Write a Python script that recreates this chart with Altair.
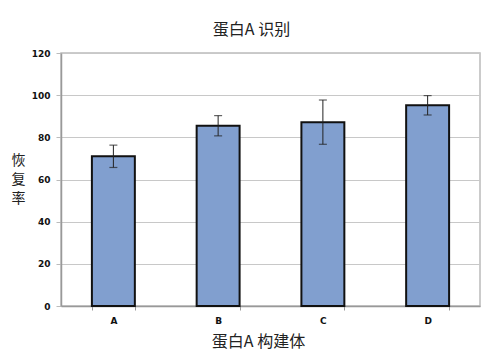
import altair as alt
import pandas as pd

categories = ["A", "B", "C", "D"]
means = [71.0, 85.5, 87.2, 95.2]
errors = [5.3, 4.8, 10.5, 4.6]

df = pd.DataFrame({
    "cat": categories,
    "mean": means,
    "lo": [m - e for m, e in zip(means, errors)],
    "hi": [m + e for m, e in zip(means, errors)],
})

x = alt.X("cat:N", sort=categories,
          scale=alt.Scale(paddingInner=0.59, paddingOuter=0.295),
          axis=alt.Axis(title="蛋白A 构建体", labelAngle=0, labelFont="DejaVu Sans",
                        labelFontWeight="bold", labelFontSize=9, labelColor="#111",
                        labelPadding=6, tickBand="extent", tickSize=4,
                        tickColor="#999", domainColor="#999", domainWidth=1.5,
                        titleFont="Noto Sans CJK SC", titleFontSize=16,
                        titleFontWeight="normal", titleColor="#222",
                        titlePadding=8, titleX=197, titleAnchor="middle", titleAlign="center"))

y_scale = alt.Scale(domain=[0, 120])

bars = alt.Chart(df).mark_bar(fill="#819FCF", stroke="#111", strokeWidth=2).encode(
    x=x,
    y=alt.Y("mean:Q", scale=y_scale,
            axis=alt.Axis(values=[0, 20, 40, 60, 80, 100, 120], title=["恢", "复", "率"],
                          titleAngle=0, titleFont="Noto Sans CJK SC", titleFontSize=14,
                          titleFontWeight="normal", titleColor="#222", titleLineHeight=19,
                          titleAlign="center", titleBaseline="top", titleX=-43, titleY=100,
                          labelFont="DejaVu Sans", labelFontWeight="bold", labelFontSize=9,
                          labelColor="#111", labelPadding=6, tickSize=5, tickColor="#bbb",
                          gridColor="#c8c8c8", domainColor="#999", domainWidth=1.5)),
)

rules = alt.Chart(df).mark_rule(color="#222", strokeWidth=1).encode(
    x=alt.X("cat:N", sort=categories), y="lo:Q", y2="hi:Q")
caps_hi = alt.Chart(df).mark_tick(color="#222", size=8, thickness=1.2, orient="horizontal").encode(
    x=alt.X("cat:N", sort=categories), y="hi:Q")
caps_lo = alt.Chart(df).mark_tick(color="#222", size=8, thickness=1.2, orient="horizontal").encode(
    x=alt.X("cat:N", sort=categories), y="lo:Q")

chart = alt.layer(bars, rules, caps_hi, caps_lo).properties(
    width=419, height=253,
    title=alt.TitleParams("蛋白A 识别", font="Noto Sans CJK SC", fontSize=16,
                          fontWeight="normal", color="#222", anchor="middle", dx=-19, offset=11),
    autosize=alt.AutoSizeParams(type="none"),
    padding={"left": 53, "top": 45, "right": 5, "bottom": 40 + 12},
).configure_view(stroke="#bbb", strokeWidth=1.5)

chart.save("out.html", embed_options={"renderer": "svg", "actions": False})
